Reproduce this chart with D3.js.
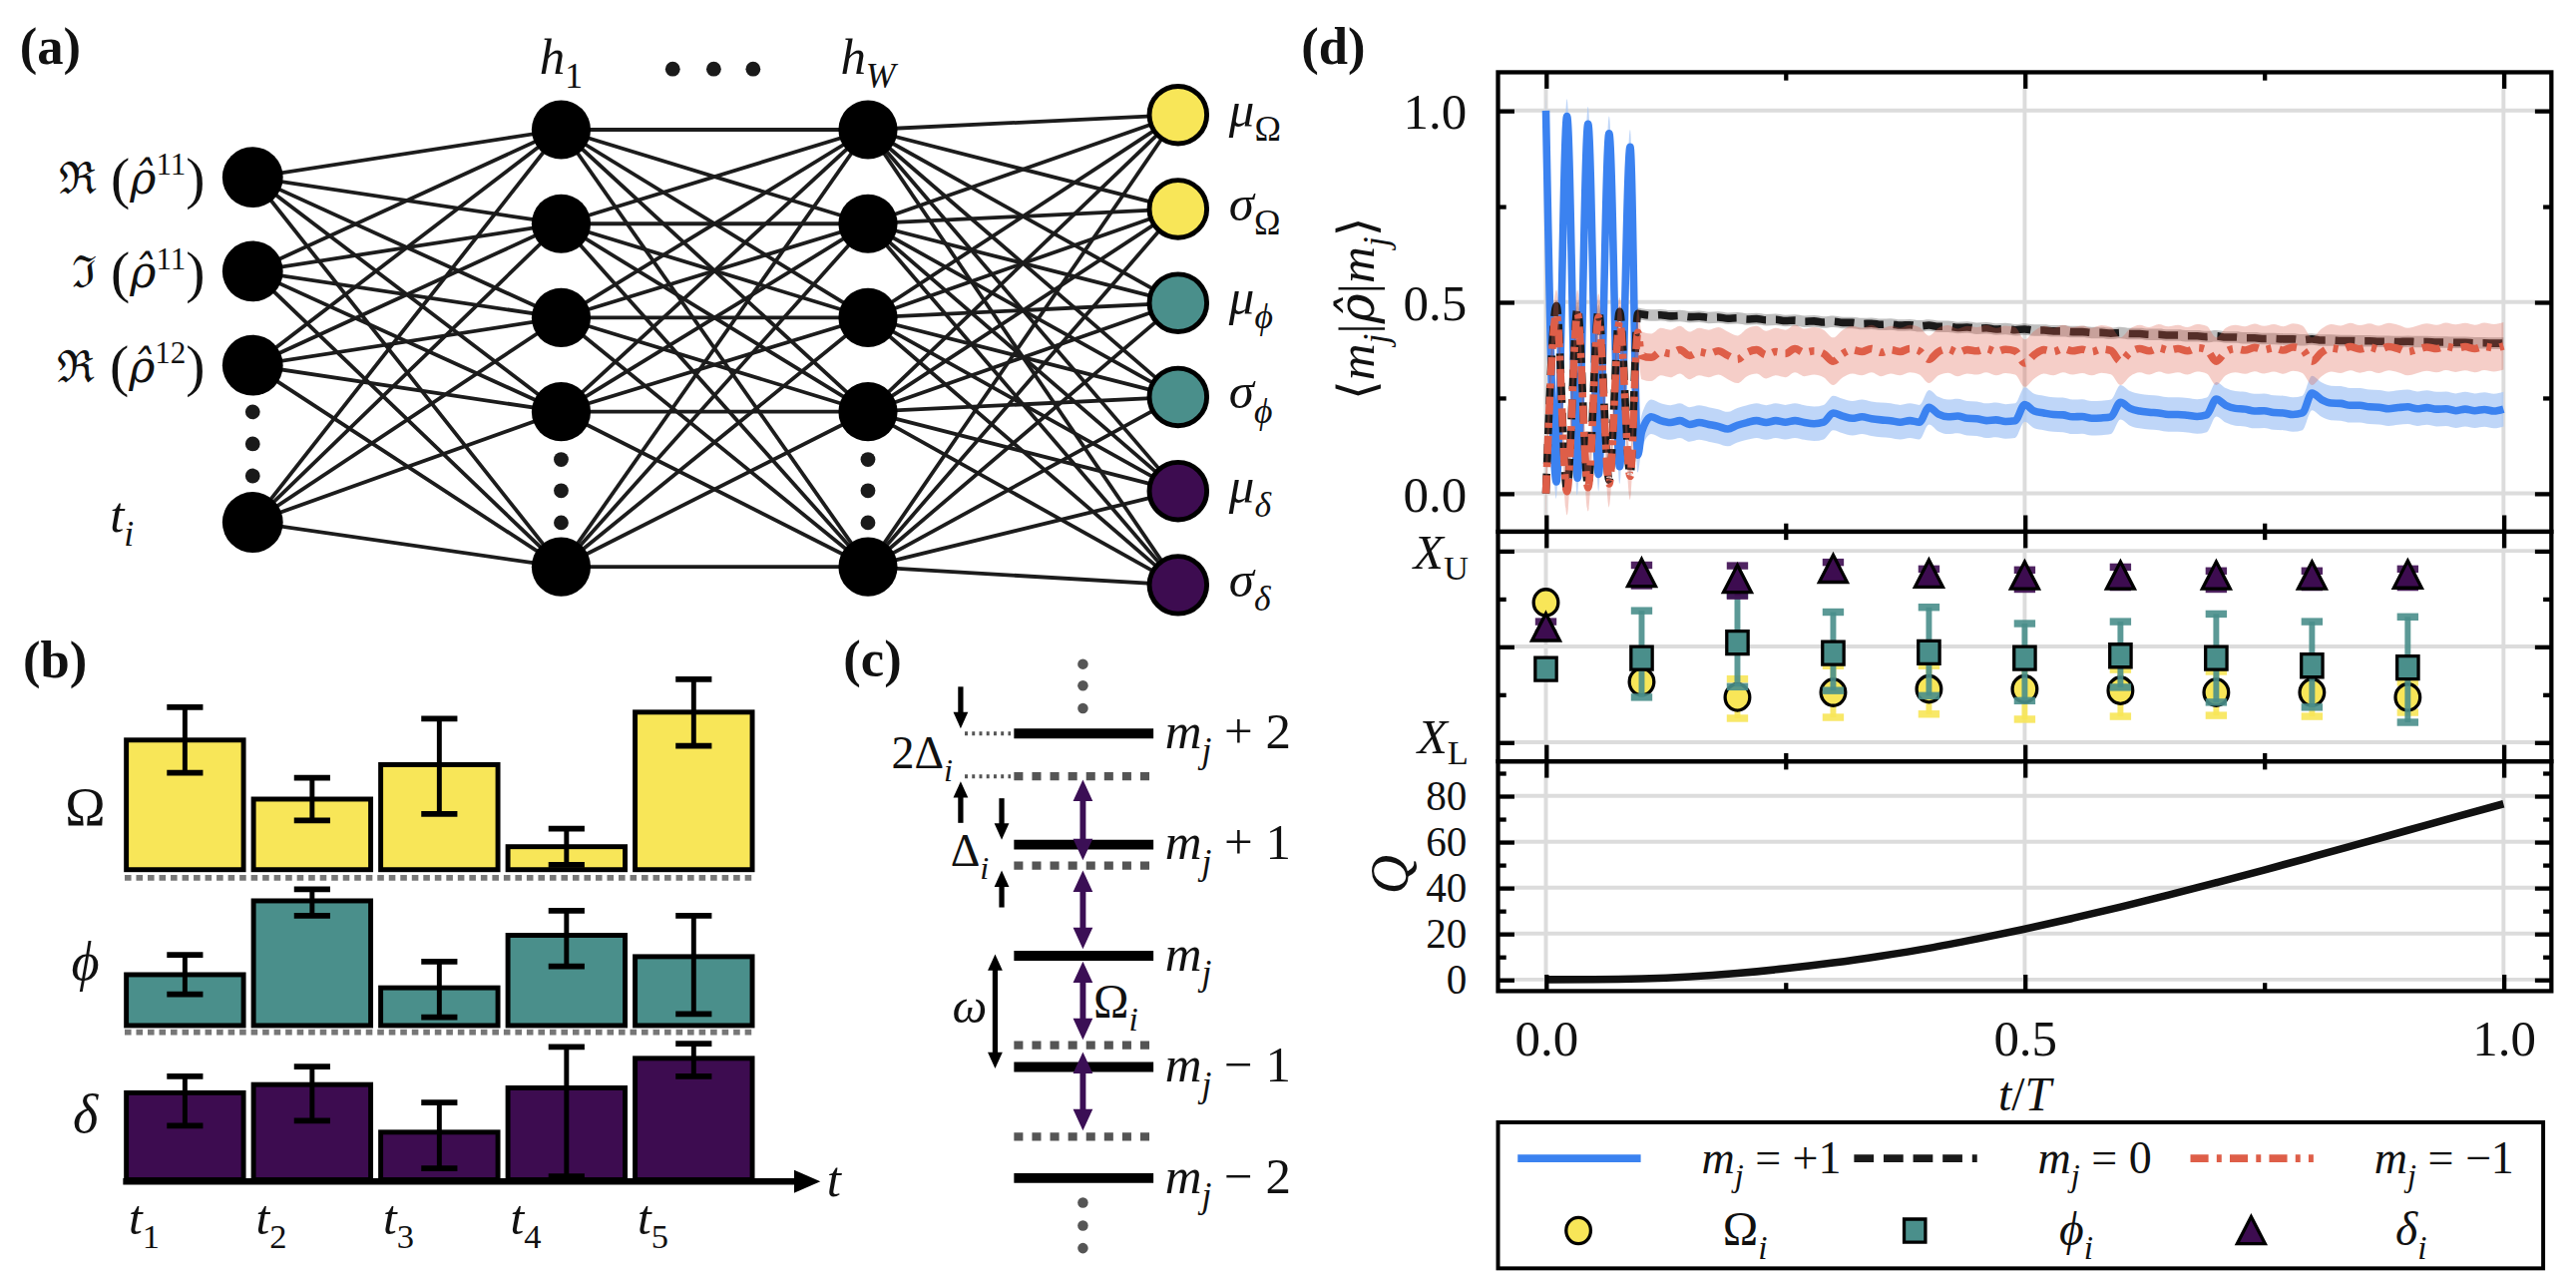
<!DOCTYPE html>
<html>
<head>
<meta charset="utf-8">
<script src="https://cdn.jsdelivr.net/npm/d3@7"></script>
<style>
  html, body { margin: 0; padding: 0; background: #fff; }
  svg { display: block; }
  text { white-space: pre; }
</style>
</head>
<body>
<div id="chart"></div>
<script>
// ---------- data ----------
// (b) parameter bars per time slot, in row units (0..1)
const barSlots = ["t1", "t2", "t3", "t4", "t5"];
const omegaBars = [0.79, 0.43, 0.64, 0.14, 0.96];
const omegaBarLo = [0.59, 0.30, 0.34, 0.03, 0.755];
const omegaBarHi = [0.99, 0.56, 0.92, 0.25, 1.16];
const phiBars = [0.31, 0.76, 0.23, 0.55, 0.42];
const phiBarLo = [0.19, 0.67, 0.05, 0.36, 0.07];
const phiBarHi = [0.43, 0.83, 0.39, 0.70, 0.67];
const deltaBars = [0.53, 0.58, 0.29, 0.56, 0.74];
const deltaBarLo = [0.33, 0.36, 0.07, 0.02, 0.63];
const deltaBarHi = [0.63, 0.69, 0.47, 0.81, 0.83];

// (d) populations: oscillating start, then the noisy tail
const tOsc = [0, 0.011, 0.022, 0.033, 0.044, 0.055, 0.066, 0.077, 0.088, 0.096];
const plusOsc = [1.0, 0.03, 0.985, 0.04, 0.965, 0.05, 0.94, 0.07, 0.905, 0.10];
const zeroOsc = [0.0, 0.49, 0.01, 0.485, 0.02, 0.48, 0.035, 0.475, 0.05, 0.47];
const minusOsc = [0.0, 0.47, 0.005, 0.47, 0.015, 0.46, 0.025, 0.45, 0.045, 0.42];

const tLate = [
  0.10, 0.11, 0.12, 0.13, 0.14, 0.15, 0.16, 0.17, 0.18, 0.19,
  0.20, 0.21, 0.22, 0.23, 0.24, 0.25, 0.26, 0.27, 0.28, 0.29,
  0.30, 0.31, 0.32, 0.33, 0.34, 0.35, 0.36, 0.37, 0.38, 0.39,
  0.40, 0.41, 0.42, 0.43, 0.44, 0.45, 0.46, 0.47, 0.48, 0.49,
  0.50, 0.51, 0.52, 0.53, 0.54, 0.55, 0.56, 0.57, 0.58, 0.59,
  0.60, 0.61, 0.62, 0.63, 0.64, 0.65, 0.66, 0.67, 0.68, 0.69,
  0.70, 0.71, 0.72, 0.73, 0.74, 0.75, 0.76, 0.77, 0.78, 0.79,
  0.80, 0.81, 0.82, 0.83, 0.84, 0.85, 0.86, 0.87, 0.88, 0.89,
  0.90, 0.91, 0.92, 0.93, 0.94, 0.95, 0.96, 0.97, 0.98, 0.99,
  1.00];
const plusLate = [
  0.16, 0.20, 0.19, 0.185, 0.19, 0.18, 0.185, 0.18, 0.175, 0.168,
  0.178, 0.185, 0.19, 0.185, 0.19, 0.186, 0.19, 0.185, 0.182, 0.186,
  0.21, 0.202, 0.196, 0.20, 0.195, 0.192, 0.19, 0.186, 0.19, 0.186,
  0.225, 0.207, 0.20, 0.202, 0.196, 0.195, 0.19, 0.192, 0.188, 0.19,
  0.232, 0.215, 0.21, 0.206, 0.205, 0.20, 0.201, 0.196, 0.197, 0.20,
  0.238, 0.222, 0.215, 0.212, 0.21, 0.206, 0.206, 0.204, 0.201, 0.205,
  0.246, 0.23, 0.222, 0.22, 0.215, 0.216, 0.211, 0.21, 0.206, 0.21,
  0.262, 0.245, 0.236, 0.235, 0.23, 0.23, 0.226, 0.225, 0.221, 0.224,
  0.226, 0.221, 0.224, 0.22, 0.221, 0.216, 0.22, 0.216, 0.219, 0.215,
  0.22];
const zeroLate = [
  0.468, 0.465, 0.466, 0.463, 0.464, 0.461, 0.462, 0.459, 0.460, 0.457,
  0.458, 0.455, 0.456, 0.453, 0.454, 0.451, 0.452, 0.449, 0.450, 0.447,
  0.449, 0.446, 0.446, 0.443, 0.444, 0.441, 0.442, 0.439, 0.440, 0.437,
  0.439, 0.436, 0.436, 0.433, 0.434, 0.431, 0.432, 0.429, 0.430, 0.427,
  0.429, 0.426, 0.426, 0.424, 0.424, 0.422, 0.422, 0.420, 0.420, 0.418,
  0.420, 0.417, 0.417, 0.415, 0.415, 0.413, 0.413, 0.411, 0.411, 0.409,
  0.411, 0.408, 0.408, 0.406, 0.406, 0.404, 0.404, 0.403, 0.403, 0.401,
  0.403, 0.400, 0.400, 0.399, 0.399, 0.398, 0.398, 0.397, 0.397, 0.396,
  0.397, 0.396, 0.396, 0.395, 0.395, 0.394, 0.394, 0.393, 0.393, 0.392,
  0.392];
const minusLate = [
  0.36, 0.355, 0.37, 0.365, 0.375, 0.36, 0.37, 0.365, 0.372, 0.36,
  0.35, 0.368, 0.375, 0.362, 0.37, 0.365, 0.378, 0.368, 0.372, 0.365,
  0.345, 0.365, 0.375, 0.37, 0.378, 0.368, 0.375, 0.37, 0.378, 0.372,
  0.35, 0.37, 0.377, 0.368, 0.375, 0.372, 0.378, 0.37, 0.376, 0.372,
  0.34, 0.362, 0.375, 0.37, 0.378, 0.372, 0.376, 0.37, 0.377, 0.373,
  0.345, 0.368, 0.378, 0.372, 0.38, 0.374, 0.378, 0.372, 0.38, 0.375,
  0.345, 0.37, 0.378, 0.374, 0.381, 0.375, 0.38, 0.374, 0.382, 0.376,
  0.345, 0.368, 0.38, 0.376, 0.383, 0.377, 0.382, 0.376, 0.383, 0.378,
  0.37, 0.376, 0.382, 0.378, 0.384, 0.379, 0.383, 0.378, 0.384, 0.38,
  0.385];
// half-width of the shaded spread per series
const plusSpread = 0.045;
const zeroSpread = 0.015;
const minusSpread = 0.062;

// (d) middle: predicted parameters at the sampled times (scaled X_L..X_U -> 0..1)
const tMarks = [0, 0.1, 0.2, 0.3, 0.4, 0.5, 0.6, 0.7, 0.8, 0.9];
const omegaMean = [0.73, 0.315, 0.235, 0.26, 0.278, 0.278, 0.27, 0.26, 0.26, 0.235];
const omegaLo = [0.70, 0.29, 0.125, 0.13, 0.147, 0.12, 0.135, 0.14, 0.135, 0.156];
const omegaHi = [0.76, 0.34, 0.33, 0.40, 0.40, 0.40, 0.38, 0.37, 0.37, 0.313];
const phiMean = [0.382, 0.44, 0.52, 0.466, 0.47, 0.44, 0.452, 0.44, 0.40, 0.39];
const phiLo = [0.34, 0.235, 0.29, 0.27, 0.243, 0.217, 0.287, 0.209, 0.183, 0.104];
const phiHi = [0.42, 0.687, 0.77, 0.68, 0.705, 0.62, 0.63, 0.67, 0.63, 0.655];
const deltaMean = [0.60, 0.884, 0.852, 0.905, 0.88, 0.87, 0.87, 0.87, 0.87, 0.875];
const deltaLo = [0.57, 0.818, 0.765, 0.85, 0.835, 0.80, 0.81, 0.80, 0.81, 0.81];
const deltaHi = [0.63, 0.925, 0.922, 0.94, 0.905, 0.90, 0.915, 0.895, 0.895, 0.905];

// (d) bottom: Q(t)
const tQ = [0, 0.05, 0.1, 0.15, 0.2, 0.25, 0.3, 0.35, 0.4, 0.45, 0.5,
            0.55, 0.6, 0.65, 0.7, 0.75, 0.8, 0.85, 0.9, 0.95, 1.0];
const qValues = [0, 0.05, 0.4, 1.3, 2.8, 4.8, 7.3, 10.3, 13.7, 17.7, 22.0,
                 26.7, 31.6, 36.8, 42.2, 47.7, 53.4, 59.2, 65.0, 70.8, 76.5];

// tick labels
const xTickLabels = ["0.0", "0.5", "1.0"];
const topTickLabels = ["0.0", "0.5", "1.0"];
const qTickLabels = ["0", "20", "40", "60", "80"];

// ---------- styling ----------
const SERIF = "'Liberation Serif', 'DejaVu Serif', serif";
const YELLOW = "#f8e658", TEAL = "#4a8f8b", PURPLE = "#3d0c50";
const BLUE = "#3b82f0", RED = "#de5e48", INK = "#111";

const svg = d3.select("#chart").append("svg")
  .attr("width", 2582).attr("height", 1278)
  .attr("viewBox", "0 0 1570 777");

// small helper for math-like text with sub/superscripts
function mathText(parent, x, y, segs, size, anchor, subDrop) {
  const t = parent.append("text").attr("x", x).attr("y", y)
    .attr("font-family", SERIF).attr("font-size", size)
    .attr("text-anchor", anchor || "start").attr("fill", INK);
  let shift = 0;
  segs.forEach(([str, st]) => {
    st = st || "";
    let fs = size, off = 0;
    if (st.includes("_")) { fs = size * 0.7; off = size * (subDrop || 0.28); }
    if (st.includes("^")) { fs = size * 0.7; off = -size * 0.42; }
    if (st.includes("b")) { fs = size * 1.3; off = size * 0.08; }
    const ts = t.append("tspan").attr("font-size", fs).attr("dy", off - shift).text(str);
    shift = off;
    if (st.includes("i")) ts.attr("font-style", "italic");
    if (st.includes("d")) ts.attr("font-family", "'DejaVu Serif', serif");
  });
  return t;
}

function panelLabel(x, y, s) {
  svg.append("text").attr("x", x).attr("y", y).attr("font-family", SERIF)
    .attr("font-size", 32).attr("font-weight", "bold").attr("fill", INK).text(s);
}

// ---------- (a) network ----------
const gA = svg.append("g");
panelLabel(12, 39, "(a)");

const slot = 57.3;
const layers = [
  { x: 154, y0: 108, slots: [0, 1, 2, 3.67], r: 18.5 },
  { x: 342, y0: 79, slots: [0, 1, 2, 3, 4.65], r: 18 },
  { x: 529, y0: 79, slots: [0, 1, 2, 3, 4.65], r: 18 },
  { x: 718, y0: 70, slots: [0, 1, 2, 3, 4, 5], r: 17.5 }
];
const outColors = [YELLOW, YELLOW, TEAL, TEAL, PURPLE, PURPLE];
const outLabels = [["μ", "Ω"], ["σ", "Ω"], ["μ", "ϕ"], ["σ", "ϕ"], ["μ", "δ"], ["σ", "δ"]];
const nodeY = (L, i) => L.y0 + L.slots[i] * slot;

for (let k = 0; k < 3; k++) {
  const A = layers[k], B = layers[k + 1];
  A.slots.forEach((_, i) => B.slots.forEach((_, j) => {
    gA.append("line")
      .attr("x1", A.x).attr("y1", nodeY(A, i))
      .attr("x2", B.x).attr("y2", nodeY(B, j))
      .attr("stroke", "#1c1c1c").attr("stroke-width", 2.3);
  }));
}
layers.forEach((L, k) => {
  L.slots.forEach((_, i) => {
    const c = gA.append("circle").attr("cx", L.x).attr("cy", nodeY(L, i)).attr("r", L.r);
    if (k === 3) c.attr("fill", outColors[i]).attr("stroke", "#000").attr("stroke-width", 3);
    else c.attr("fill", "#000");
  });
});
// vertical ellipsis dots
[[154, [251, 270.5, 290]], [342, [280, 299, 318.5]], [529, [280, 299, 318.5]]].forEach(([x, ys]) =>
  ys.forEach(y => gA.append("circle").attr("cx", x).attr("cy", y).attr("r", 4.5).attr("fill", "#1a1a1a")));
[410, 435, 459].forEach(x => gA.append("circle").attr("cx", x).attr("cy", 42).attr("r", 4.5).attr("fill", "#1a1a1a"));

mathText(gA, 342, 45, [["h", "i"], ["1", "_"]], 31, "middle");
mathText(gA, 529, 45, [["h", "i"], ["W", "_i"]], 31, "middle");

const inLabels = [["ℜ", "11"], ["ℑ", "11"], ["ℜ", "12"]];
inLabels.forEach(([f, sup], i) => {
  mathText(gA, 125, nodeY(layers[0], i) + 10,
    [[f, "d"], [" (", "b"], ["ρ\u0302", "id"], [sup, "^"], [")", "b"]], 27, "end");
});
mathText(gA, 67, 324, [["t", "i"], ["i", "_i"]], 31, "start");
outLabels.forEach(([a, b], i) => {
  mathText(gA, 749, nodeY(layers[3], i) + 7, [[a, "i"], [b, b === "Ω" ? "_" : "_i"]], 31, "start");
});

// ---------- (b) bars ----------
const gB = svg.append("g");
panelLabel(14, 413, "(b)");
const bx = d3.scaleBand().domain(barSlots).range([75.5, 460]).paddingInner(0.04);
const rows = [
  { base: 530, vals: omegaBars, lo: omegaBarLo, hi: omegaBarHi, color: YELLOW, sep: 535, lab: ["Ω", ""], ly: 503 },
  { base: 625, vals: phiBars, lo: phiBarLo, hi: phiBarHi, color: TEAL, sep: 629, lab: ["ϕ", "i"], ly: 597 },
  { base: 719, vals: deltaBars, lo: deltaBarLo, hi: deltaBarHi, color: PURPLE, sep: null, lab: ["δ", "i"], ly: 690 }
];
rows.forEach(R => {
  const y = d3.scaleLinear().domain([0, 1]).range([R.base, R.base - 100]);
  if (R.sep) {
    gB.append("line").attr("x1", 76).attr("x2", 460).attr("y1", R.sep).attr("y2", R.sep)
      .attr("stroke", "#777").attr("stroke-width", 3.5).attr("stroke-dasharray", "4,3");
  }
  gB.selectAll(null).data(barSlots).enter().append("rect")
    .attr("x", d => bx(d) + 1.5).attr("width", bx.bandwidth() - 3)
    .attr("y", (d, i) => y(R.vals[i])).attr("height", (d, i) => R.base - y(R.vals[i]))
    .attr("fill", R.color).attr("stroke", "#000").attr("stroke-width", 3);
  barSlots.forEach((d, i) => {
    const cx = bx(d) + bx.bandwidth() / 2;
    gB.append("line").attr("x1", cx).attr("x2", cx).attr("y1", y(R.lo[i])).attr("y2", y(R.hi[i]))
      .attr("stroke", "#000").attr("stroke-width", 3);
    [R.lo[i], R.hi[i]].forEach(v => gB.append("line")
      .attr("x1", cx - 11).attr("x2", cx + 11).attr("y1", y(v)).attr("y2", y(v))
      .attr("stroke", "#000").attr("stroke-width", 3.5));
  });
  mathText(gB, 52, R.ly, [[R.lab[0], R.lab[1]]], 33, "middle");
});
// time axis arrow
gB.append("line").attr("x1", 75).attr("x2", 488).attr("y1", 720).attr("y2", 720)
  .attr("stroke", "#000").attr("stroke-width", 4);
gB.append("path").attr("d", "M500,720 L484,713 L484,727 Z").attr("fill", "#000");
mathText(gB, 504, 729, [["t", "i"]], 31, "start");
barSlots.forEach((d, i) => mathText(gB, bx(d) + 3, 752, [["t", "i"], [String(i + 1), "_"]], 30, "start"));

// ---------- (c) level scheme ----------
const gC = svg.append("g");
panelLabel(514, 412, "(c)");
const levels = [2, 1, 0, -1, -2];
const levelShift = [0.386, 0.189, 0, -0.196, -0.373];
const levelNames = ["m_j + 2", "m_j + 1", "m_j", "m_j − 1", "m_j − 2"];
const ly = d3.scaleLinear().domain([-2, 2]).range([718, 447]);
const lx0 = 618, lx1 = 703, arrowX = 660;

function arrowHead(g, x, y, dir, w, l, color) {
  // dir = +1 points down, -1 points up; (x,y) is the tip
  g.append("path").attr("d", `M${x},${y} L${x - w / 2},${y - dir * l} L${x + w / 2},${y - dir * l} Z`).attr("fill", color);
}
function vArrow(g, x, yTail, yTip, color, sw, w, l) {
  const dir = yTip > yTail ? 1 : -1;
  g.append("line").attr("x1", x).attr("x2", x).attr("y1", yTail).attr("y2", yTip - dir * l * 0.6)
    .attr("stroke", color).attr("stroke-width", sw);
  arrowHead(g, x, yTip, dir, w, l, color);
}
function dArrow(g, x, y1, y2, color, sw, w, l) {
  g.append("line").attr("x1", x).attr("x2", x).attr("y1", y1 + l * 0.6).attr("y2", y2 - l * 0.6)
    .attr("stroke", color).attr("stroke-width", sw);
  arrowHead(g, x, y1, -1, w, l, color);
  arrowHead(g, x, y2, 1, w, l, color);
}

levels.forEach((m, i) => {
  const y = ly(m);
  gC.append("line").attr("x1", lx0).attr("x2", lx1).attr("y1", y).attr("y2", y)
    .attr("stroke", "#000").attr("stroke-width", 6);
  if (levelShift[i] !== 0) {
    const yd = ly(m - levelShift[i]);
    gC.append("line").attr("x1", lx0).attr("x2", lx1).attr("y1", yd).attr("y2", yd)
      .attr("stroke", "#555").attr("stroke-width", 5).attr("stroke-dasharray", "5.5,5.5");
  }
  const nm = levelNames[i];
  const segs = [["m", "i"], ["j", "_i"]];
  if (nm.length > 3) segs.push([nm.slice(3), ""]);
  mathText(gC, 710, y + 9, segs, 31, "start");
});
// dotted leaders for 2Δ
[ly(2), ly(2 - levelShift[0])].forEach(y => gC.append("line").attr("x1", 588).attr("x2", 616)
  .attr("y1", y).attr("y2", y).attr("stroke", "#555").attr("stroke-width", 2.5).attr("stroke-dasharray", "1.8,2.6"));
// ellipsis dots above and below
[404.7, 417.8, 431.7, 733, 747, 760.7].forEach(y => gC.append("circle").attr("cx", arrowX).attr("cy", y)
  .attr("r", 3.2).attr("fill", "#555"));
// Δ arrows
vArrow(gC, 585.5, 418.5, ly(2) - 3, "#000", 3.2, 9, 10);
vArrow(gC, 585.5, 501.5, ly(2 - levelShift[0]) + 3, "#000", 3.2, 9, 10);
vArrow(gC, 610.5, 486.5, ly(1) - 3, "#000", 3.2, 9, 10);
vArrow(gC, 610.5, 553, ly(1 - levelShift[1]) + 3, "#000", 3.2, 9, 10);
dArrow(gC, 606.5, ly(0) - 1, ly(-1) + 1, "#000", 3.2, 9, 10);
// coupling arrows
[[475.2, 524.2], [530.5, 578.3], [585.9, 633.7], [641.2, 689]].forEach(([a, b]) =>
  dArrow(gC, arrowX, a, b, "#3b0f55", 3.6, 12, 13));
mathText(gC, 562, 468, [["2Δ", ""], ["i", "_i"]], 28, "middle");
mathText(gC, 591, 528, [["Δ", ""], ["i", "_i"]], 28, "middle");
mathText(gC, 591, 623, [["ω", "i"]], 30, "middle");
mathText(gC, 680, 620, [["Ω", ""], ["i", "_i"]], 29, "middle");

// ---------- (d) time traces ----------
panelLabel(793, 39, "(d)");
const xL = 913, xR = 1555;
const dX = d3.scaleLinear().domain([-0.05, 1.05]).range([xL, xR]);
const topY = d3.scaleLinear().domain([-0.1, 1.1]).range([324, 44]);
const midY = d3.scaleLinear().domain([-0.1, 1.1]).range([464, 324]);
const botY = d3.scaleLinear().domain([-5, 95]).range([604, 464]);
const xMajor = [0, 0.5, 1], xMinor = [0.25, 0.75];
const GRID = "#dcdcdc";

function axesFrame(g, y, yMajor, id) {
  const [yb, yt] = y.range();
  xMajor.forEach(v => g.append("line").attr("x1", dX(v)).attr("x2", dX(v)).attr("y1", yt).attr("y2", yb)
    .attr("stroke", GRID).attr("stroke-width", 2.4));
  yMajor.forEach(v => g.append("line").attr("x1", xL).attr("x2", xR).attr("y1", y(v)).attr("y2", y(v))
    .attr("stroke", GRID).attr("stroke-width", 2.4));
  svg.append("clipPath").attr("id", id).append("rect")
    .attr("x", xL).attr("y", yt).attr("width", xR - xL).attr("height", yb - yt);
  return g.append("g").attr("clip-path", `url(#${id})`);
}
function axesTicks(g, y, yMajor, yMinor, showX) {
  const [yb, yt] = y.range();
  const style = sel => {
    sel.select(".domain").remove();
    sel.selectAll("line").attr("stroke", "#000").attr("stroke-width", 2.6);
    sel.selectAll("text").attr("font-family", SERIF).attr("font-size", 31).attr("fill", INK);
  };
  g.append("g").attr("transform", `translate(${xL},0)`)
    .call(d3.axisLeft(y).tickValues(yMajor).tickSizeInner(-10).tickSizeOuter(0).tickFormat("")).call(style);
  g.append("g").attr("transform", `translate(${xL},0)`)
    .call(d3.axisLeft(y).tickValues(yMinor).tickSizeInner(-5).tickSizeOuter(0).tickFormat("")).call(style);
  g.append("g").attr("transform", `translate(${xR},0)`)
    .call(d3.axisRight(y).tickValues(yMajor).tickSizeInner(-10).tickSizeOuter(0).tickFormat("")).call(style);
  g.append("g").attr("transform", `translate(${xR},0)`)
    .call(d3.axisRight(y).tickValues(yMinor).tickSizeInner(-5).tickSizeOuter(0).tickFormat("")).call(style);
  g.append("g").attr("transform", `translate(0,${yt})`)
    .call(d3.axisTop(dX).tickValues(xMajor).tickSizeInner(-10).tickSizeOuter(0).tickFormat("")).call(style);
  g.append("g").attr("transform", `translate(0,${yt})`)
    .call(d3.axisTop(dX).tickValues(xMinor).tickSizeInner(-5).tickSizeOuter(0).tickFormat("")).call(style);
  g.append("g").attr("transform", `translate(0,${yb})`)
    .call(d3.axisBottom(dX).tickValues(xMajor).tickSizeInner(-10).tickSizeOuter(0).tickPadding(17)
      .tickFormat((d, i) => showX ? xTickLabels[i] : "")).call(style);
  g.append("g").attr("transform", `translate(0,${yb})`)
    .call(d3.axisBottom(dX).tickValues(xMinor).tickSizeInner(-5).tickSizeOuter(0).tickFormat("")).call(style);
  g.append("rect").attr("x", xL).attr("y", yt).attr("width", xR - xL).attr("height", yb - yt)
    .attr("fill", "none").attr("stroke", "#000").attr("stroke-width", 2.6);
}

// top panel
const gTop = svg.append("g");
const topPlot = axesFrame(gTop, topY, [0, 0.5, 1], "clipTop");
const tAll = tOsc.concat(tLate);
const series = [
  { v: plusOsc.concat(plusLate), s: plusSpread, color: BLUE, band: "#aac8f6", bandOp: 0.75, dash: null },
  { v: zeroOsc.concat(zeroLate), s: zeroSpread, color: "#1a1a1a", band: "#000", bandOp: 0.25, dash: "12,6" },
  { v: minusOsc.concat(minusLate), s: minusSpread, color: RED, band: RED, bandOp: 0.3, dash: "11,5,3,5" }
];
series.forEach(S => {
  const pts = tAll.map((t, i) => [t, S.v[i]]);
  topPlot.append("path").datum(pts)
    .attr("d", d3.area().x(d => dX(d[0])).y0(d => topY(d[1] - S.s)).y1(d => topY(d[1] + S.s)).curve(d3.curveMonotoneX))
    .attr("fill", S.band).attr("opacity", S.bandOp);
  topPlot.append("path").datum(pts)
    .attr("d", d3.line().x(d => dX(d[0])).y(d => topY(d[1])).curve(d3.curveMonotoneX))
    .attr("fill", "none").attr("stroke", S.color).attr("stroke-width", 4.6)
    .attr("stroke-dasharray", S.dash);
});
axesTicks(gTop, topY, [0, 0.5, 1], [0.25, 0.75], false);
[0, 0.5, 1].forEach((v, i) => gTop.append("text").attr("x", xL - 19).attr("y", topY(v) + 11)
  .attr("text-anchor", "end").attr("font-family", SERIF).attr("font-size", 31).attr("fill", INK).text(topTickLabels[i]));
mathText(gTop, 0, 0, [["⟨", "d"], ["m", "i"], ["j", "_i"], ["|", ""], ["ρ\u0302", "id"], ["|", ""], ["m", "i"], ["j", "_i"], ["⟩", "d"]], 31, "middle")
  .attr("transform", "translate(837,188) rotate(-90)");

// middle panel
const gMid = svg.append("g");
const midPlot = axesFrame(gMid, midY, [0, 0.5, 1], "clipMid");
const markerSets = [
  { mean: omegaMean, lo: omegaLo, hi: omegaHi, color: YELLOW, shape: "circle" },
  { mean: phiMean, lo: phiLo, hi: phiHi, color: TEAL, shape: "square" },
  { mean: deltaMean, lo: deltaLo, hi: deltaHi, color: PURPLE, shape: "triangle" }
];
function markerPath(shape, x, y) {
  if (shape === "square") return `M${x - 6.5},${y - 7} h13 v14 h-13 Z`;
  if (shape === "triangle") return `M${x},${y - 8.5} L${x + 8.5},${y + 8} L${x - 8.5},${y + 8} Z`;
  return null;
}
function drawMarker(g, shape, x, y, color) {
  if (shape === "circle") {
    g.append("ellipse").attr("cx", x).attr("cy", y).attr("rx", 7.5).attr("ry", 8)
      .attr("fill", color).attr("stroke", "#000").attr("stroke-width", 2);
  } else {
    g.append("path").attr("d", markerPath(shape, x, y))
      .attr("fill", color).attr("stroke", "#000").attr("stroke-width", 2).attr("stroke-linejoin", "miter");
  }
}
markerSets.forEach(M => {
  tMarks.forEach((t, i) => {
    const x = dX(t);
    midPlot.append("line").attr("x1", x).attr("x2", x).attr("y1", midY(M.lo[i])).attr("y2", midY(M.hi[i]))
      .attr("stroke", M.color).attr("stroke-width", 3.6).attr("opacity", 0.9);
    [M.lo[i], M.hi[i]].forEach(v => midPlot.append("line").attr("x1", x - 6.5).attr("x2", x + 6.5)
      .attr("y1", midY(v)).attr("y2", midY(v)).attr("stroke", M.color).attr("stroke-width", 4.5).attr("opacity", 0.9));
    drawMarker(midPlot, M.shape, x, midY(M.mean[i]), M.color);
  });
});
axesTicks(gMid, midY, [0, 0.5, 1], [0.25, 0.75], false);
mathText(gMid, 895, midY(1) + 11, [["X", "i"], ["U", "_"]], 30, "end", 0.22);
mathText(gMid, 895, midY(0) + 7, [["X", "i"], ["L", "_"]], 30, "end", 0.22);

// bottom panel (tick labels kept compact so their boxes stay apart)
const gBot = svg.append("g");
const botPlot = axesFrame(gBot, botY, [0, 20, 40, 60, 80], "clipBot");
botPlot.append("path").datum(tQ.map((t, i) => [t, qValues[i]]))
  .attr("d", d3.line().x(d => dX(d[0])).y(d => botY(d[1])).curve(d3.curveMonotoneX))
  .attr("fill", "none").attr("stroke", "#111").attr("stroke-width", 4.6);
axesTicks(gBot, botY, [0, 20, 40, 60, 80], [10, 30, 50, 70, 90], true);
[0, 20, 40, 60, 80].forEach((v, i) => gBot.append("text").attr("x", xL - 19).attr("y", botY(v) + 8.5)
  .attr("text-anchor", "end").attr("font-family", SERIF).attr("font-size", 25).attr("fill", INK).text(qTickLabels[i]));
mathText(gBot, 0, 0, [["Q", "i"]], 33, "middle").attr("transform", "translate(858,533) rotate(-90)");
mathText(svg, dX(0.5), 677, [["t", "i"], ["/", ""], ["T", "i"]], 29, "middle");

// ---------- legend ----------
const gL = svg.append("g");
gL.append("rect").attr("x", 913).attr("y", 684).attr("width", 637).attr("height", 89)
  .attr("fill", "#fff").attr("stroke", "#000").attr("stroke-width", 2.4);
const legendLines = [
  { x: 925, color: BLUE, dash: null, lab: " = +1" },
  { x: 1130, color: "#1a1a1a", dash: "12,6", lab: " = 0" },
  { x: 1335, color: RED, dash: "11,5,3,5", lab: " = −1" }
];
legendLines.forEach(L => {
  gL.append("line").attr("x1", L.x).attr("x2", L.x + 75).attr("y1", 706).attr("y2", 706)
    .attr("stroke", L.color).attr("stroke-width", 4.6).attr("stroke-dasharray", L.dash);
  mathText(gL, L.x + 112, 715, [["m", "i"], ["j", "_i"], [L.lab, ""]], 28, "start");
});
const legendMarks = [
  { x: 962, shape: "circle", color: YELLOW, lab: ["Ω", ""] },
  { x: 1167, shape: "square", color: TEAL, lab: ["ϕ", "i"] },
  { x: 1372, shape: "triangle", color: PURPLE, lab: ["δ", "i"] }
];
legendMarks.forEach(L => {
  drawMarker(gL, L.shape, L.x, 750, L.color);
  mathText(gL, L.x + 88, 759, [[L.lab[0], L.lab[1]], ["i", "_i"]], 29, "start");
});
</script>
</body>
</html>
